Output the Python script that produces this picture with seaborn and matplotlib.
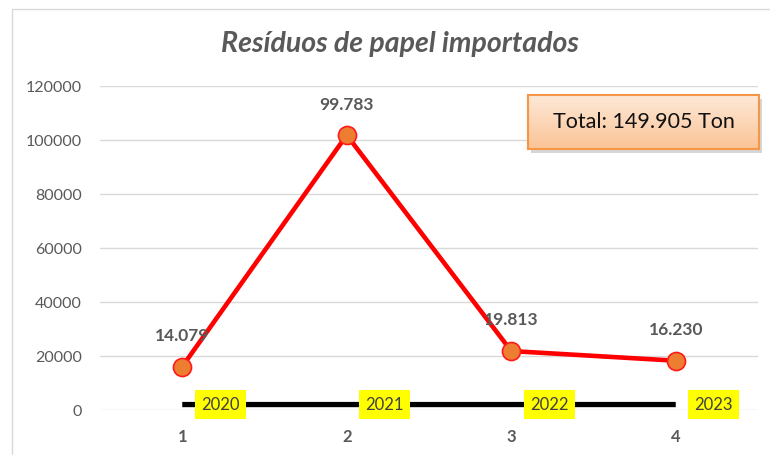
import numpy as np
import pandas as pd
import matplotlib
matplotlib.use("Agg")
import matplotlib.pyplot as plt
from matplotlib.patches import Rectangle
import seaborn as sns

# ---- data ----
categories = [1, 2, 3, 4]
years = [2020, 2021, 2022, 2023]
values = [14079, 99783, 19813, 16230]
value_labels = ["14.079", "99.783", "19.813", "16.230"]
year_labels = ["2020", "2021", "2022", "2023"]
title = "Resíduos de papel importados"
total_text = "Total: 149.905 Ton"
y_ticks = [0, 20000, 40000, 60000, 80000, 100000, 120000]

sns.set_style("white")
plt.rcParams["font.family"] = ["Lato", "DejaVu Sans"]

# stacked line chart (Excel style): red series is stacked on the year series
df = pd.DataFrame({
    "cat": categories,
    "year": years,
    "stacked": np.array(years) + np.array(values),
})

W, H = 770, 455
fig = plt.figure(figsize=(W / 100, H / 100), dpi=100)
fig.patch.set_facecolor("white")

# outer chart border
fig.patches.append(Rectangle((12 / W, -0.1), 2, 1 - 9 / H + 0.1,
                             transform=fig.transFigure, fill=False,
                             edgecolor="#d9d9d9", linewidth=1.0))

ax = fig.add_axes([100 / W, 1 - 410 / H, 658 / W, 324 / H])
ax.set_xlim(0.5, 4.5)
ax.set_ylim(0, 120000)
ax.set_yticks(y_ticks)
ax.set_yticklabels([str(v) for v in y_ticks])
ax.set_xticks(categories)
ax.set_xticklabels([str(c) for c in categories])
ax.yaxis.grid(True, color="#d9d9d9", linewidth=1.0)
ax.xaxis.grid(False)
ax.set_axisbelow(True)
for s in ax.spines.values():
    s.set_visible(False)
ax.tick_params(axis="y", length=0, pad=13, labelsize=11.5, labelcolor="#595959")
ax.tick_params(axis="x", length=0, pad=14, labelsize=12, labelcolor="#595959")
for t in ax.get_xticklabels():
    t.set_fontweight("bold")

# black (year) series
sns.lineplot(data=df, x="cat", y="year", ax=ax, color="black", linewidth=3.8,
             solid_capstyle="butt", zorder=3)
# red stacked series
sns.lineplot(data=df, x="cat", y="stacked", ax=ax, color="#ff0000", linewidth=3.3,
             marker="o", markersize=13, markerfacecolor="#ed7d31",
             markeredgecolor="#ff1a1a", markeredgewidth=1.2, zorder=4, clip_on=False)
ax.set_xlabel("")
ax.set_ylabel("")

for c, yv, lab in zip(df["cat"], df["stacked"], value_labels):
    ax.annotate(lab, (c, yv), xytext=(0, 22), textcoords="offset points",
                ha="center", va="center", fontsize=12.5, fontweight="bold",
                color="#595959", zorder=6)

for c, yv, lab in zip(df["cat"], df["year"], year_labels):
    ax.annotate(lab, (c, yv), xytext=(13.5, 0), textcoords="offset points",
                ha="left", va="center", fontsize=12, color="#404040", zorder=6,
                bbox=dict(boxstyle="square,pad=0.38", facecolor="#ffff00",
                          edgecolor="none"))

# title
fig.text(400 / W, 1 - 44 / H, title, ha="center", va="center", fontsize=20.5,
         fontweight="bold", fontstyle="italic", color="#595959")

# total box with gradient + shadow
bx0, by0, bx1, by1 = 528, 95, 759, 149
sh = fig.add_axes([(bx0 + 3) / W, 1 - (by1 + 4) / H, (bx1 - bx0) / W, (by1 - by0) / H])
sh.set_axis_off()
sh.add_patch(Rectangle((0, 0), 1, 1, transform=sh.transAxes, facecolor="#bbbbbb",
                       edgecolor="none", alpha=0.6))
bax = fig.add_axes([bx0 / W, 1 - by1 / H, (bx1 - bx0) / W, (by1 - by0) / H])
grad = np.linspace(0, 1, 100).reshape(-1, 1)
top = np.array([0xfd, 0xe9, 0xd9]) / 255
bot = np.array([0xfb, 0xc4, 0x96]) / 255
img = top[None, None, :] * (1 - grad[:, :, None]) + bot[None, None, :] * grad[:, :, None]
bax.imshow(img, aspect="auto", extent=(0, 1, 0, 1), origin="upper")
bax.set_xlim(0, 1)
bax.set_ylim(0, 1)
bax.set_xticks([])
bax.set_yticks([])
for s in bax.spines.values():
    s.set_edgecolor("#f79646")
    s.set_linewidth(1.5)
bax.text(0.5, 0.5, total_text, ha="center", va="center", fontsize=15.5,
         color="#111111", transform=bax.transAxes)

fig.savefig("out.png", dpi=100)
